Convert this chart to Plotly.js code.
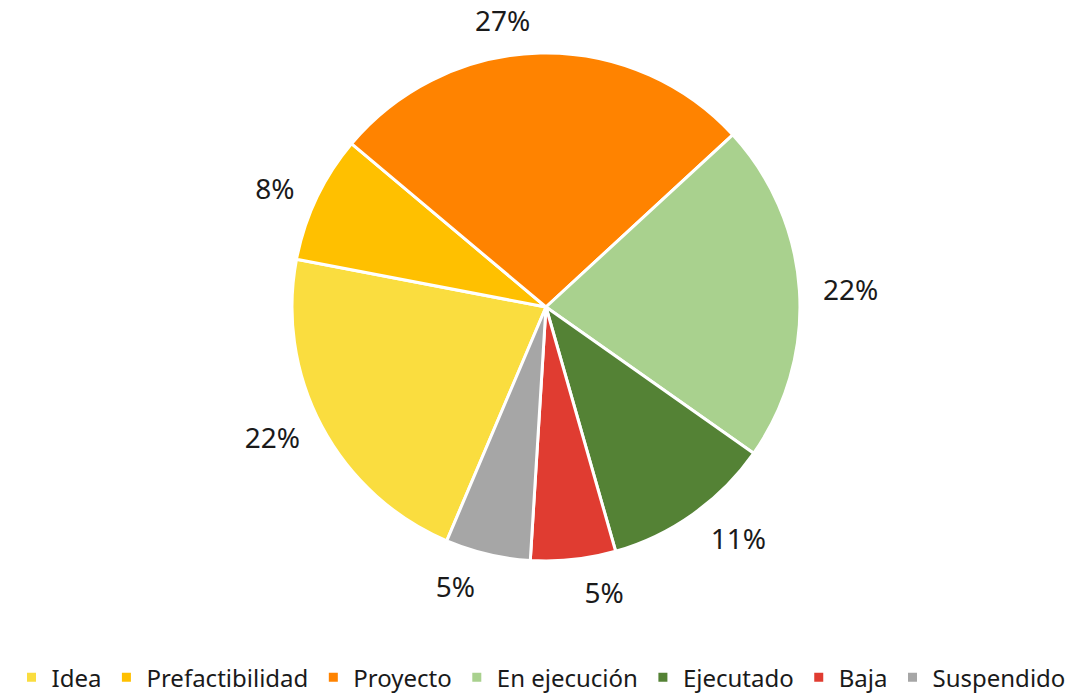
<!DOCTYPE html>
<html>
<head>
<meta charset="utf-8">
<script src="https://cdn.plot.ly/plotly-3.0.1.min.js"></script>
<style>html,body{margin:0;padding:0;background:#fff;}#chart{width:1082px;height:695px;}</style>
</head>
<body>
<div id="chart"></div>
<script>
const categories = ["Idea", "Prefactibilidad", "Proyecto", "En ejecución", "Ejecutado", "Baja", "Suspendido"];
const values = [8, 3, 10, 8, 4, 2, 2];
const colors = ["#FADD3F", "#FFC000", "#FF8300", "#A9D18E", "#548235", "#E03C31", "#A6A6A6"];

const FONT = "Noto Sans, Open Sans, sans-serif";

// main pie (slices + legend)
const pieTrace = {
  type: "pie",
  labels: categories,
  values: values,
  sort: false,
  direction: "clockwise",
  rotation: 203,
  marker: {colors: colors, line: {color: "#ffffff", width: 3}},
  textinfo: "none",
  hoverinfo: "label+percent",
  domain: {x: [0.2698, 0.7394], y: [0.1928, 0.9237]},
  automargin: false
};

// transparent, slightly larger pie that only carries the outside percent labels
const labelTrace = {
  type: "pie",
  labels: categories,
  values: values,
  sort: false,
  direction: "clockwise",
  rotation: 203,
  showlegend: false,
  marker: {colors: categories.map(() => "rgba(0,0,0,0)"), line: {width: 0}},
  texttemplate: "%{percent:.0%}",
  textposition: "outside",
  outsidetextfont: {family: FONT, size: 28, color: "#1a1a1a"},
  hoverinfo: "skip",
  domain: {x: [0.2569, 0.7523], y: [0.1727, 0.9439]},
  automargin: false
};

const layout = {
  width: 1082,
  height: 695,
  margin: {l: 0, r: 0, t: 0, b: 0, autoexpand: false},
  paper_bgcolor: "#ffffff",
  showlegend: true,
  legend: {
    orientation: "h",
    x: 0.5, xanchor: "center",
    y: 0.025, yanchor: "middle",
    font: {family: FONT, size: 24, color: "#1a1a1a"},
    traceorder: "normal",
    itemclick: false
  }
};

Plotly.newPlot("chart", [pieTrace, labelTrace], layout, {displayModeBar: false, staticPlot: true});
</script>
</body>
</html>
